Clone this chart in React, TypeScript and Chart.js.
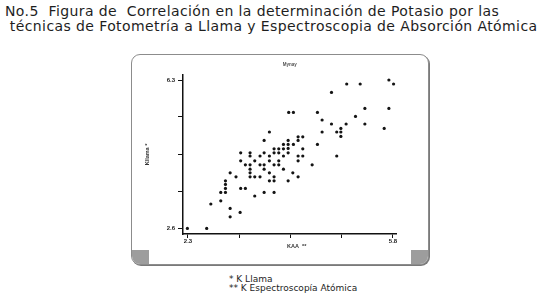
import React, { useEffect, useRef } from "react";
import { Chart, registerables } from "chart.js";

Chart.register(...registerables);

// K by atomic absorption (x) vs K by flame photometry (y)
const xValues = [
  5.73, 5.81, 5.01, 5.24, 4.75,
  5.32, 5.73, 4.02, 4.10, 4.51,
  5.16, 4.59, 4.75, 5.00, 5.32,
  5.65, 4.91, 3.69, 4.59, 4.84, 4.91,
  4.91, 4.18, 4.26,
  3.60, 4.01, 4.18,
  3.93, 4.01, 4.10, 4.51,
  3.77, 3.85, 3.93, 4.01, 4.26,
  3.20, 3.36, 3.60, 3.77, 3.85, 4.01,
  3.36, 3.53, 3.69, 3.93, 4.18, 4.26, 4.84,
  3.20, 3.44, 3.69, 3.85, 4.18,
  3.28, 3.36, 3.53, 3.60, 3.77, 3.85, 4.42,
  3.36, 3.60, 3.93,
  3.02, 3.36, 3.69, 4.09,
  3.12, 3.36, 3.44, 3.53, 3.77, 4.18,
  2.94, 3.69, 3.77, 4.01,
  2.94, 2.94, 3.20, 3.28,
  2.86, 2.94, 3.60, 3.77,
  3.44, 2.86, 2.69, 3.02, 3.19, 3.02,
  2.29, 2.62,
];
const yValues = [
  6.30, 6.20, 6.20, 6.20, 5.99,
  5.59, 5.59, 5.49, 5.49, 5.49,
  5.39, 5.30, 5.20, 5.20, 5.20,
  5.09, 5.09, 5.00, 5.00, 5.00, 5.00,
  4.89, 4.88, 4.88,
  4.79, 4.79, 4.79,
  4.69, 4.69, 4.69, 4.69,
  4.58, 4.58, 4.58, 4.59, 4.58,
  4.48, 4.48, 4.48, 4.48, 4.48, 4.48,
  4.40, 4.40, 4.40, 4.40, 4.40, 4.40, 4.40,
  4.28, 4.28, 4.28, 4.28, 4.28,
  4.18, 4.18, 4.18, 4.18, 4.18, 4.18, 4.18,
  4.07, 4.07, 4.07,
  3.98, 3.98, 3.98, 3.98,
  3.88, 3.88, 3.88, 3.88, 3.88, 3.88,
  3.78, 3.78, 3.78, 3.78,
  3.69, 3.59, 3.59, 3.59,
  3.49, 3.49, 3.49, 3.49,
  3.40, 3.28, 3.20, 3.09, 2.99, 2.88,
  2.59, 2.59,
];

const xTicks = [2.3, 3.175, 4.05, 4.925, 5.8];
const yTicks = [2.6, 3.525, 4.45, 5.375, 6.3];
const xTickLabels = ["2.3", "", "", "", "5.8"];
const yTickLabels = ["2.6", "", "", "", "6.3"];

const titleLines = [
  "No.5  Figura de  Correlación en la determinación de Potasio por las",
  " técnicas de Fotometría a Llama y Espectroscopia de Absorción Atómica",
];
const footnotes = ["* K Llama", "** K Espectroscopía Atómica"];
const plotTitle = "Mynay";
const xAxisTitle = "KAA  **";
const yAxisTitle = "Kllama *";

const xTitlePlugin = {
  id: "xTitlePlugin",
  afterDraw(chart: any) {
    const { ctx, chartArea } = chart;
    ctx.save();
    ctx.font = 'bold 5.5px "Liberation Sans", Arial, sans-serif';
    ctx.fillStyle = "#333";
    ctx.textAlign = "center";
    ctx.textBaseline = "middle";
    ctx.fillText(xAxisTitle, (chartArea.left + chartArea.right) / 2 + 7, chartArea.bottom + 12);
    ctx.restore();
  },
};

export default function App() {
  const ref = useRef<HTMLCanvasElement | null>(null);

  useEffect(() => {
    if (!ref.current) return;
    const tickFont = { family: '"Liberation Sans", Arial, sans-serif', size: 6, weight: "bold" as const };
    const chart = new Chart(ref.current, {
      type: "scatter",
      data: {
        datasets: [
          {
            data: xValues.map((x, i) => ({ x, y: yValues[i] })),
            backgroundColor: "#141414",
            borderWidth: 0,
            pointRadius: 1.6,
            pointHoverRadius: 1.6,
          },
        ],
      },
      plugins: [xTitlePlugin],
      options: {
        responsive: false,
        animation: false,
        devicePixelRatio: 1,
        layout: { padding: { left: 0, right: 31.5, top: 0, bottom: 0 } },
        plugins: {
          legend: { display: false },
          tooltip: { enabled: false },
          title: {
            display: true,
            text: plotTitle,
            fullSize: false,
            color: "#555",
            font: { family: '"Liberation Sans", Arial, sans-serif', size: 4.5, weight: "bold" },
            padding: { top: 7.3, bottom: 7.3 },
          },
        },
        scales: {
          x: {
            type: "linear",
            min: 2.215,
            max: 5.86,
            afterBuildTicks: (s: any) => {
              s.ticks = xTicks.map((v) => ({ value: v }));
            },
            afterFit: (s: any) => {
              s.height = 31;
              s.paddingLeft = 0;
              s.paddingRight = 0;
            },
            grid: { display: true, drawOnChartArea: false, drawTicks: true, tickLength: 4, tickColor: "#111", lineWidth: 1 },
            border: { display: true, color: "#111", width: 1.5 },
            ticks: {
              autoSkip: false,
              maxRotation: 0,
              padding: 0,
              color: "#222",
              font: tickFont,
              callback: (_v: any, i: number) => xTickLabels[i],
            },
          },
          y: {
            type: "linear",
            min: 2.45,
            max: 6.425,
            afterBuildTicks: (s: any) => {
              s.ticks = yTicks.map((v) => ({ value: v }));
            },
            afterFit: (s: any) => {
              s.width = 51;
              s.paddingTop = 0;
              s.paddingBottom = 0;
            },
            grid: { display: true, drawOnChartArea: false, drawTicks: true, tickLength: 5, tickColor: "#111", lineWidth: 1 },
            border: { display: true, color: "#111", width: 1.5 },
            ticks: {
              autoSkip: false,
              padding: 3,
              color: "#222",
              font: tickFont,
              callback: (_v: any, i: number) => yTickLabels[i],
            },
            title: {
              display: true,
              text: yAxisTitle,
              color: "#333",
              font: { family: '"Liberation Sans", Arial, sans-serif', size: 5.5, weight: "bold" },
              padding: { top: 11.7, bottom: 0 },
            },
          },
        },
      },
    } as any);
    return () => chart.destroy();
  }, []);

  return (
    <div
      style={{
        position: "absolute",
        left: 0,
        top: 0,
        width: 542,
        height: 305,
        background: "#fff",
        overflow: "hidden",
        fontFamily: '"DejaVu Sans", Verdana, sans-serif',
        color: "#1e1e1e",
      }}
    >
      <div
        style={{
          position: "absolute",
          left: 5,
          top: 3.6,
          fontSize: 14,
          letterSpacing: "0.4px",
          lineHeight: "15px",
          whiteSpace: "pre",
        }}
      >
        {titleLines[0]}
        <br />
        {titleLines[1]}
      </div>
      <div
        style={{
          position: "absolute",
          left: 131,
          top: 54,
          width: 296,
          height: 209,
          border: "1px solid #8c8c8c",
          borderRadius: 9,
          overflow: "hidden",
          boxShadow: "1px 1px 0 #7a7a7a",
          background: "#fff",
        }}
      >
        <div style={{ position: "absolute", left: 0, bottom: 0, width: 17, height: 14, background: "#9d9d9d" }} />
        <div style={{ position: "absolute", right: 0, bottom: 0, width: 17, height: 14, background: "#9d9d9d" }} />
      </div>
      <canvas ref={ref} width={296} height={210} style={{ position: "absolute", left: 132, top: 55, width: 296, height: 210 }} />
      <div style={{ position: "absolute", left: 229, top: 275, fontSize: 9, lineHeight: "9px", whiteSpace: "pre" }}>
        {footnotes[0]}
        <br />
        {footnotes[1]}
      </div>
    </div>
  );
}
